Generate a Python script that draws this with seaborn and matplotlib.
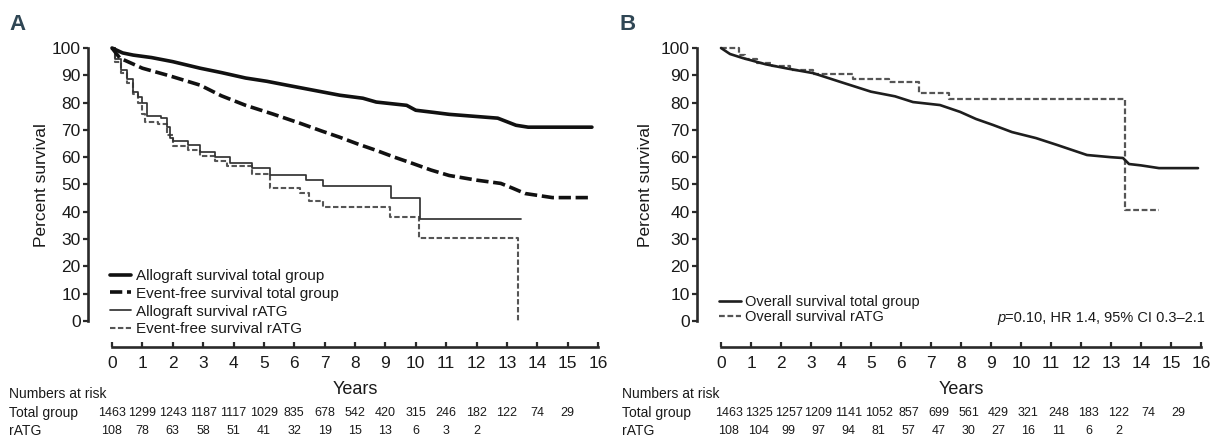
import numpy as np
import pandas as pd
import matplotlib
matplotlib.use("Agg")
import matplotlib.pyplot as plt
import matplotlib.transforms as mtransforms
from matplotlib.lines import Line2D
import seaborn as sns

# ---------------- data ----------------
years_ticks = list(range(0, 17))
yticks = list(range(0, 101, 10))

# Panel A
a_allo_total_t = [0, 0.35, 0.7, 1.3, 2.0, 2.9, 3.6, 4.4, 5.1, 5.75, 6.6, 7.5, 8.26, 8.7, 9.2, 9.7, 10.0, 10.6, 11.1, 11.9, 12.7, 13.3, 13.7, 14.5, 15.8]
a_allo_total_v = [100, 98.2, 97.4, 96.5, 95.0, 92.6, 91.0, 89.0, 87.8, 86.4, 84.6, 82.7, 81.6, 80.2, 79.6, 79.0, 77.2, 76.4, 75.7, 75.0, 74.3, 71.7, 71.0, 71.0, 71.0]

a_efs_total_t = [0, 0.26, 1.0, 1.9, 2.9, 3.6, 4.4, 5.3, 6.2, 6.9, 7.5, 8.1, 8.7, 9.3, 9.9, 10.5, 11.1, 12.0, 12.8, 13.2, 13.6, 14.5, 15.7]
a_efs_total_v = [100, 96.3, 92.6, 89.8, 86.4, 82.5, 79.0, 75.8, 72.4, 69.6, 67.3, 64.8, 62.5, 60.0, 57.7, 55.3, 53.3, 51.6, 50.4, 48.6, 46.7, 45.2, 45.2]

a_allo_ratg_t = [0, 0.1, 0.3, 0.5, 0.7, 0.85, 1.0, 1.15, 1.6, 1.8, 1.9, 2.0, 2.5, 2.9, 3.4, 3.9, 4.6, 5.2, 6.4, 6.95, 9.2, 10.15, 13.45]
a_allo_ratg_v = [100, 96, 92, 88.6, 84, 82, 80, 75, 74.4, 71, 67, 66, 64.5, 62, 60, 57.7, 55.9, 53.3, 51.5, 49.3, 45.2, 37.5, 37.5]

a_efs_ratg_t = [0, 0.1, 0.3, 0.5, 0.7, 0.85, 1.0, 1.1, 1.5, 1.8, 2.0, 2.5, 2.9, 3.4, 3.8, 4.6, 5.2, 6.2, 6.5, 6.95, 9.15, 10.1, 13.35, 13.35]
a_efs_ratg_v = [100, 95, 91, 87, 83, 80, 76, 72.8, 72, 68, 64, 62.5, 60.3, 58.5, 56.6, 53.7, 48.9, 47, 44, 41.9, 38.2, 30.3, 30.3, 0]

# Panel B
b_os_total_t = [0, 0.3, 0.73, 1.5, 2.2, 3.07, 4.0, 5.0, 5.8, 6.4, 7.3, 7.97, 8.5, 9.07, 9.7, 10.5, 11.2, 12.2, 13.0, 13.4, 13.6, 14.0, 14.6, 15.9]
b_os_total_v = [100, 97.8, 96.3, 94.0, 92.5, 90.8, 87.5, 84.0, 82.3, 80.2, 79.1, 76.6, 74.0, 71.8, 69.2, 67.0, 64.5, 60.8, 60.0, 59.7, 57.5, 57.0, 56.0, 56.0]

b_os_ratg_t = [0, 0.6, 0.8, 1.2, 1.7, 2.3, 3.07, 4.4, 5.6, 6.6, 7.6, 13.45, 14.6]
b_os_ratg_v = [100, 97.4, 96, 94.5, 93.5, 92, 90.5, 88.7, 87.5, 83.5, 81.2, 40.6, 40.6]

# Numbers at risk
a_risk_total = [1463, 1299, 1243, 1187, 1117, 1029, 835, 678, 542, 420, 315, 246, 182, 122, 74, 29]
a_risk_ratg = [108, 78, 63, 58, 51, 41, 32, 19, 15, 13, 6, 3, 2]
b_risk_total = [1463, 1325, 1257, 1209, 1141, 1052, 857, 699, 561, 429, 321, 248, 183, 122, 74, 29]
b_risk_ratg = [108, 104, 99, 97, 94, 81, 57, 47, 30, 27, 16, 11, 6, 2]

a_labels = ["Allograft survival total group", "Event-free survival total group",
            "Allograft survival rATG", "Event-free survival rATG"]
b_labels = ["Overall survival total group", "Overall survival rATG"]
stat_text = "=0.10, HR 1.4, 95% CI 0.3\u20132.1"

# ---------------- style ----------------
sns.set_theme(style="ticks")
plt.rcParams["font.family"] = ["Liberation Sans", "DejaVu Sans"]
plt.rcParams["axes.edgecolor"] = "#2a2a2a"

W, H = 1220, 440
fig = plt.figure(figsize=(W / 100, H / 100), dpi=100)

def fx(px):
    return px / W

def fy(py):
    return 1 - py / H

axA = fig.add_axes([fx(112), fy(321), fx(598) - fx(112), fy(48) - fy(321)])
axB = fig.add_axes([fx(721), fy(321), fx(1201) - fx(721), fy(48) - fy(321)])

def frame(df_list):
    rows = []
    for name, t, v in df_list:
        rows.append(pd.DataFrame({"t": t, "v": v, "curve": name}))
    return pd.concat(rows, ignore_index=True)

sA = {
    a_labels[0]: dict(color="#111111", lw=2.6, ls="-", ds="default"),
    a_labels[1]: dict(color="#111111", lw=2.6, ls=(0, (3.4, 1.3)), ds="default"),
    a_labels[2]: dict(color="#333333", lw=1.25, ls="-", ds="steps-post"),
    a_labels[3]: dict(color="#555555", lw=1.5, ls=(0, (2.6, 1.2)), ds="steps-post"),
}
sB = {
    b_labels[0]: dict(color="#1e1e1e", lw=1.9, ls="-", ds="default"),
    b_labels[1]: dict(color="#555555", lw=1.6, ls=(0, (2.6, 1.2)), ds="steps-post"),
}

dfA = frame([(a_labels[0], a_allo_total_t, a_allo_total_v),
             (a_labels[1], a_efs_total_t, a_efs_total_v),
             (a_labels[2], a_allo_ratg_t, a_allo_ratg_v),
             (a_labels[3], a_efs_ratg_t, a_efs_ratg_v)])
dfB = frame([(b_labels[0], b_os_total_t, b_os_total_v),
             (b_labels[1], b_os_ratg_t, b_os_ratg_v)])

def draw(ax, df, styles, order):
    for name in order[::-1]:
        st = styles[name]
        sub = df[df["curve"] == name]
        sns.lineplot(data=sub, x="t", y="v", ax=ax, color=st["color"], lw=st["lw"],
                     linestyle=st["ls"], drawstyle=st["ds"], estimator=None, sort=False,
                     clip_on=False, legend=False)

draw(axA, dfA, sA, a_labels)
draw(axB, dfB, sB, b_labels)

tick_fs = 12.5
txt_c = "#1a1a1a"
for ax in (axA, axB):
    ax.set_xlim(0, 16)
    ax.set_ylim(0, 100)
    ax.set_xticks(years_ticks)
    ax.set_yticks(yticks)
    ax.set_xlabel("")
    ax.set_ylabel("")
    sns.despine(ax=ax, offset={"left": 17, "bottom": 18.5})
    ax.spines["left"].set_linewidth(1.9)
    ax.spines["bottom"].set_linewidth(1.9)
    ax.tick_params(axis="y", direction="out", length=3.5, width=1.6, pad=2,
                   labelsize=tick_fs, color="#2a2a2a", labelcolor=txt_c)
    ax.tick_params(axis="x", direction="in", length=3.5, width=1.6, pad=7,
                   labelsize=tick_fs, color="#2a2a2a", labelcolor=txt_c)

# panel letters
for x0, letter in ((18, "A"), (628, "B")):
    fig.text(fx(x0), fy(25), letter, fontsize=16, fontweight="bold", color="#2f4654",
             ha="center", va="center")

# axis titles
for ylab_x, center in ((42, 355), (646, 961)):
    fig.text(fx(ylab_x), fy(185), "Percent survival", rotation=90, fontsize=12.5,
             ha="center", va="center", color=txt_c)
    fig.text(fx(center), fy(389), "Years", fontsize=13, ha="center", va="center",
             color=txt_c)

# legends
def make_handles(styles, order):
    return [Line2D([0], [0], color=styles[n]["color"], lw=styles[n]["lw"],
                   linestyle=styles[n]["ls"]) for n in order]

fig.legend(make_handles(sA, a_labels), a_labels, loc="upper left",
           bbox_to_anchor=(fx(110), fy(269)), frameon=False, fontsize=11,
           handlelength=1.4, handletextpad=0.3, labelspacing=0.25,
           borderpad=0, borderaxespad=0, labelcolor=txt_c)
fig.legend(make_handles(sB, b_labels), b_labels, loc="upper left",
           bbox_to_anchor=(fx(719), fy(295)), frameon=False, fontsize=10.5,
           handlelength=1.5, handletextpad=0.3, labelspacing=0.1,
           borderpad=0, borderaxespad=0, labelcolor=txt_c)

# stats annotation
st_main = fig.text(fx(1205), fy(318), stat_text, fontsize=10.5, ha="right", va="center",
                   color=txt_c)
axB.annotate("p", xy=(0, 0), xycoords=st_main, ha="right", va="bottom", fontsize=10.5,
             fontstyle="italic", color=txt_c)

# numbers at risk
risk_fs = 9
lab_fs = 10
def risk_table(ax, x0, totals, ratgs, shift):
    fig.text(fx(x0), fy(394), "Numbers at risk", fontsize=lab_fs, ha="left", va="center", color=txt_c)
    fig.text(fx(x0), fy(413), "Total group", fontsize=lab_fs, ha="left", va="center", color=txt_c)
    fig.text(fx(x0), fy(431), "rATG", fontsize=lab_fs, ha="left", va="center", color=txt_c)
    tr = mtransforms.blended_transform_factory(ax.transData, fig.transFigure)
    for i, n in enumerate(totals):
        ax.text(i + shift, fy(413), str(n), transform=tr, fontsize=risk_fs, ha="center",
                va="center", color=txt_c, clip_on=False)
    for i, n in enumerate(ratgs):
        ax.text(i + shift, fy(431), str(n), transform=tr, fontsize=risk_fs, ha="center",
                va="center", color=txt_c, clip_on=False)

risk_table(axA, 9, a_risk_total, a_risk_ratg, 0.0)
risk_table(axB, 622, b_risk_total, b_risk_ratg, 0.25)

fig.savefig("out.png", dpi=100)
